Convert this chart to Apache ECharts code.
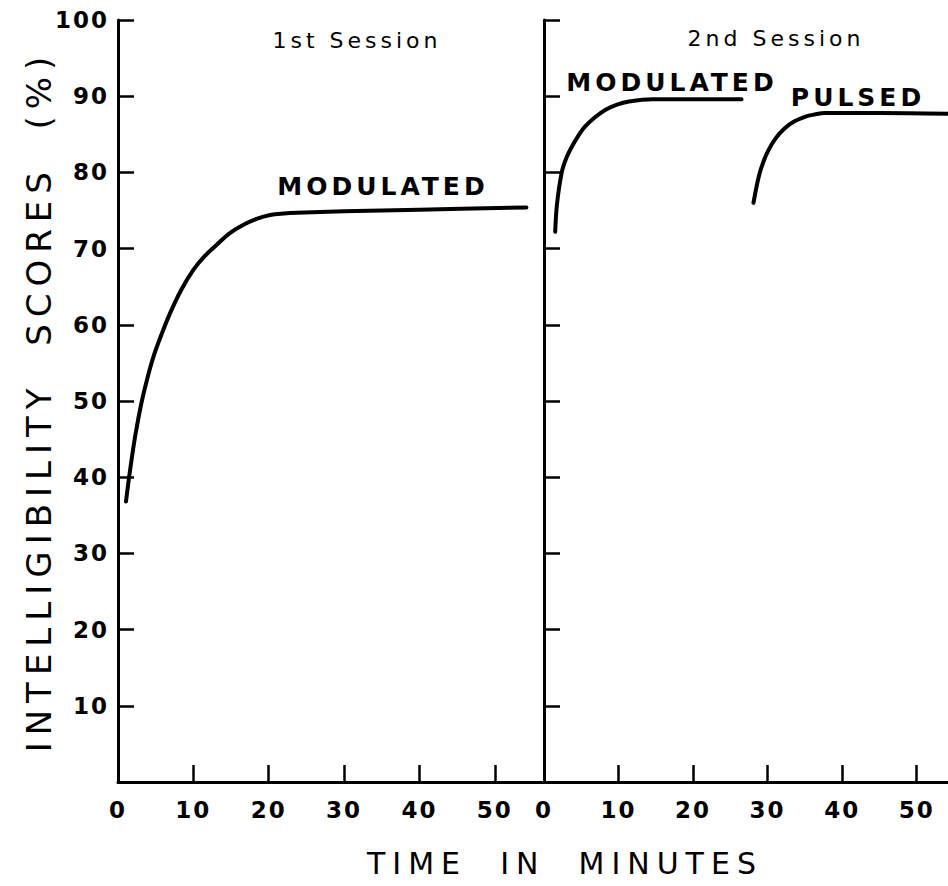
<!DOCTYPE html>
<html>
<head>
<meta charset="utf-8">
<script src="https://cdn.jsdelivr.net/npm/echarts@6/dist/echarts.min.js"></script>
<style>
html, body { margin: 0; padding: 0; background: #fff; }
#chart { width: 948px; height: 886px; }
#chart text[style*="34px"] { letter-spacing: 7px; }
#chart text[style*="30px"] { letter-spacing: 7px; }
#chart text[style*="23px"] { letter-spacing: 2px; }
#chart text[style*="22px"] { letter-spacing: 4px; }
#chart text[style*="25px"] { letter-spacing: 4px; }
</style>
</head>
<body>
<div id="chart"></div>
<script>
// ---- data ----
const xTickValues = [0, 10, 20, 30, 40, 50];
const yTickValues = [10, 20, 30, 40, 50, 60, 70, 80, 90, 100];

const session1Time      = [1.06, 1.6, 2.3, 3.1, 3.9, 4.7, 5.8, 6.9, 8.4, 10, 11.5, 13.1, 14.8, 16.6, 18.4, 20.2, 22, 23.7, 30, 40, 54.2];
const session1Modulated = [36.8, 40.9, 45.5, 49.7, 53.0, 55.8, 58.8, 61.5, 64.6, 67.2, 69.0, 70.5, 72.0, 73.1, 73.9, 74.4, 74.6, 74.7, 74.9, 75.1, 75.4];

const session2ModTime   = [1.5, 1.75, 2.4, 3.0, 3.75, 4.6, 5.5, 6.8, 8.2, 9.8, 11.4, 14.5, 20, 26.5];
const session2Modulated = [72.2, 75.9, 80.1, 81.9, 83.4, 84.8, 86.0, 87.2, 88.2, 88.9, 89.3, 89.6, 89.6, 89.6];

const session2PulsedTime = [28.1, 28.8, 29.4, 30.1, 31.1, 32.3, 33.6, 35.0, 36.3, 37.7, 45, 54.1];
const session2Pulsed     = [76.0, 79.4, 81.3, 82.9, 84.5, 85.8, 86.7, 87.3, 87.6, 87.8, 87.8, 87.7];

const yTitle = 'INTELLIGIBILITY  SCORES  (%)';
const xTitle = 'TIME  IN  MINUTES';
const panelTitles = ['1st Session', '2nd Session'];
const curveLabels = ['MODULATED', 'MODULATED', 'PULSED'];

// ---- build ----
const FONT = '"DejaVu Sans", sans-serif';
const pairs = (xs, ys) => xs.map((x, i) => [x, ys[i]]);

const axisLine = { show: true, onZero: false, lineStyle: { color: '#000', width: 3 } };

function xAxisCfg(gridIndex, max) {
  return {
    gridIndex, type: 'value', min: 0, max,
    axisLine,
    axisTick: { show: true, inside: true, length: 17, lineStyle: { color: '#000', width: 2.5 }, customValues: xTickValues },
    axisLabel: { show: true, customValues: xTickValues, color: '#000', fontSize: 23, fontWeight: 'bold', fontFamily: FONT, margin: 16 },
    splitLine: { show: false }
  };
}
function yAxisCfg(gridIndex, showLabels) {
  const cfg = {
    gridIndex, type: 'value', min: 0, max: 100, interval: 10,
    axisLine,
    axisTick: { show: true, inside: true, length: 16, lineStyle: { color: '#000', width: 2.5 }, customValues: yTickValues },
    axisLabel: { show: showLabels, customValues: yTickValues, color: '#000', fontSize: 23, fontWeight: 'bold', fontFamily: FONT, margin: 9 },
    splitLine: { show: false }
  };
  if (showLabels) {
    cfg.name = yTitle;
    cfg.nameLocation = 'middle';
    cfg.nameRotate = 90;
    cfg.nameGap = 62;
    cfg.nameTextStyle = { color: '#000', fontSize: 34, fontFamily: FONT };
  }
  return cfg;
}

const lineStyle = { color: '#000', width: 4, cap: 'round', join: 'round' };
function lineSeries(name, xi, data) {
  return {
    name, type: 'line', xAxisIndex: xi, yAxisIndex: xi,
    data, showSymbol: false, symbol: 'none', smooth: 0.35,
    lineStyle, itemStyle: { color: '#000' }, clip: false
  };
}

function txt(text, x, y, size, weight) {
  return {
    type: 'text', x, y,
    style: { text, fill: '#000', fontSize: size, fontWeight: weight || 'normal', fontFamily: FONT, align: 'center', verticalAlign: 'middle' }
  };
}

const option = {
  animation: false,
  backgroundColor: '#fff',
  grid: [
    { left: 118, top: 20, width: 425, height: 762 },
    { left: 544, top: 20, width: 404, height: 762 }
  ],
  xAxis: [xAxisCfg(0, 56.4), xAxisCfg(1, 54.2)],
  yAxis: [yAxisCfg(0, true), yAxisCfg(1, false)],
  series: [
    lineSeries('1st Session MODULATED', 0, pairs(session1Time, session1Modulated)),
    lineSeries('2nd Session MODULATED', 1, pairs(session2ModTime, session2Modulated)),
    lineSeries('2nd Session PULSED', 1, pairs(session2PulsedTime, session2Pulsed))
  ],
  graphic: [
    txt(panelTitles[0], 357, 40, 22),
    txt(panelTitles[1], 776, 38, 22),
    txt(curveLabels[0], 383, 186, 25, 'bold'),
    txt(curveLabels[1], 672, 82, 25, 'bold'),
    txt(curveLabels[2], 858, 97, 25, 'bold'),
    txt(xTitle, 565, 863, 30)
  ]
};

const chart = echarts.init(document.getElementById('chart'), null, { renderer: 'svg' });
chart.setOption(option);
</script>
</body>
</html>
